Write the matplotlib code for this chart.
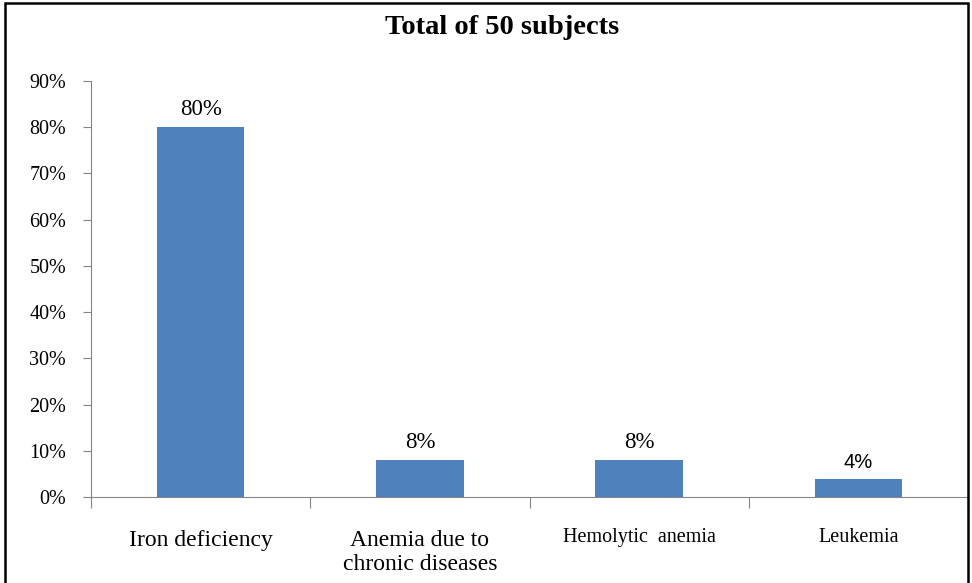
import matplotlib.pyplot as plt
from matplotlib.patches import Rectangle

# 病型ごとの割合 (%)
categories = ["Iron deficiency", "Anemia due to\nchronic diseases", "Hemolytic  anemia", "Leukemia"]
percent = [80, 8, 8, 4]
y_ticks = [0, 10, 20, 30, 40, 50, 60, 70, 80, 90]

# ラベルごとの書式 (元の図は一部だけサイズ・書体が違う)
label_sizes = [17, 17, 14.5, 14.5]
label_tops = [-7.2, -7.2, -6.7, -6.7]
value_fonts = ["Liberation Serif", "Liberation Serif", "Liberation Serif", "Liberation Sans"]
value_sizes = [16.5, 16.5, 16.5, 14.5]

plt.rcParams["font.family"] = ["Liberation Serif", "DejaVu Serif"]

fig = plt.figure(figsize=(9.72, 5.83), dpi=100)
ax = fig.add_axes([91 / 972, 1 - 497 / 583, 877 / 972, (497 - 81) / 583])

x = range(len(categories))
bars = ax.bar(x, percent, width=0.4, color="#4F81BD", zorder=2)

# 棒の上に値ラベル
for xi, v, fam, fs in zip(x, percent, value_fonts, value_sizes):
    ax.annotate(f"{v}%", (xi, v), xytext=(0, 5), textcoords="offset points",
                ha="center", va="bottom", fontsize=fs, family=fam)

ax.set_xlim(-0.5, len(categories) - 0.5)
ax.set_ylim(0, 90)
ax.set_yticks(y_ticks)
ax.set_yticklabels([f"{t}%" for t in y_ticks], fontsize=14.5)
ax.tick_params(axis="y", direction="out", length=6, color="#868686", pad=12)

# x 軸の目盛りは区切り位置に
ax.set_xticks([i - 0.5 for i in range(len(categories) + 1)])
ax.set_xticklabels([])
ax.tick_params(axis="x", direction="out", length=8, color="#868686")

for xi, name, fs, top in zip(x, categories, label_sizes, label_tops):
    ax.text(xi, top, name, ha="center", va="top", fontsize=fs, linespacing=1.2)

for side in ("top", "right"):
    ax.spines[side].set_visible(False)
for side in ("left", "bottom"):
    ax.spines[side].set_color("#868686")

fig.text(502 / 972, 1 - 27 / 583, "Total of 50 subjects", ha="center", va="center",
         fontsize=20.5, fontweight="bold")

# 外枠
fig.patches.append(Rectangle((5 / 972, -0.05), 963 / 972, 1 - 3 / 583 + 0.05,
                             transform=fig.transFigure, fill=False,
                             edgecolor="black", linewidth=1.8))

fig.savefig("out.png", dpi=100)
